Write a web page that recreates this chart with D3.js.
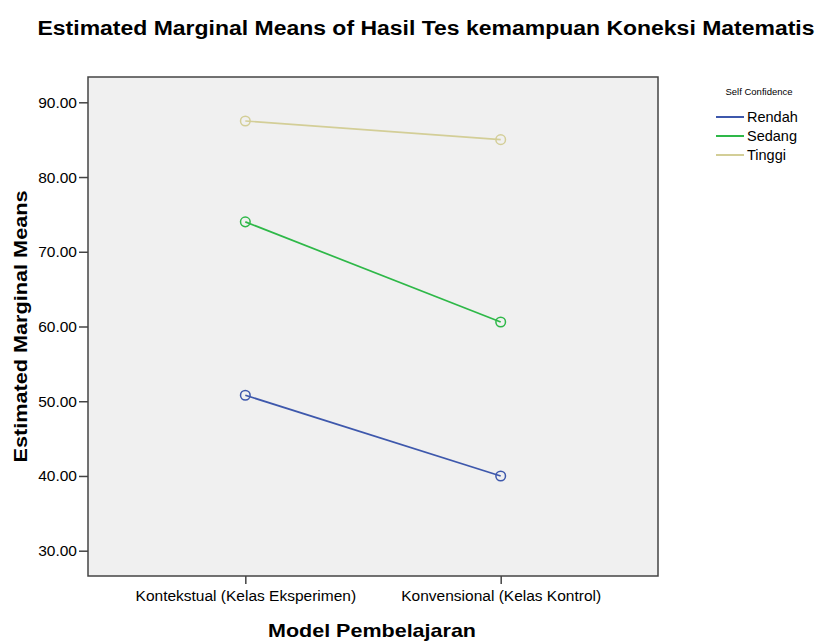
<!DOCTYPE html>
<html>
<head>
<meta charset="utf-8">
<script src="https://cdn.jsdelivr.net/npm/d3@7"></script>
<style>
  body { margin: 0; background: #fff; }
  text { font-family: Arial, "Liberation Sans", sans-serif; fill: #000; }
</style>
</head>
<body>
<div id="container"></div>
<script>
// categories on the x axis
const categories = ['Kontekstual (Kelas Eksperimen)', 'Konvensional (Kelas Kontrol)'];

// series (Self Confidence levels)
const seriesNames = ['Rendah', 'Sedang', 'Tinggi'];
const rendahValues = [50.8, 40.0];
const sedangValues = [74.0, 60.6];
const tinggiValues = [87.5, 85.0];

const yTicks = [30, 40, 50, 60, 70, 80, 90];

const seriesColors = ['#3e58ac', '#2eb848', '#d3ce97'];

const series = [
    { name: seriesNames[0], values: rendahValues, color: seriesColors[0] },
    { name: seriesNames[1], values: sedangValues, color: seriesColors[1] },
    { name: seriesNames[2], values: tinggiValues, color: seriesColors[2] }
];

const width = 820;
const height = 641;

// plot frame
const plot = { left: 88, right: 658, top: 77, bottom: 576 };

const svg = d3.select('#container').append('svg')
    .attr('width', width)
    .attr('height', height);

// Title
svg.append('text')
    .attr('x', 426)
    .attr('y', 35)
    .attr('text-anchor', 'middle')
    .attr('font-size', 20)
    .attr('font-weight', 'bold')
    .attr('textLength', 777)
    .attr('lengthAdjust', 'spacingAndGlyphs')
    .text('Estimated Marginal Means of Hasil Tes kemampuan Koneksi Matematis');

// Scales
const yScale = d3.scaleLinear()
    .domain([30, 90])
    .range([550.7, 102.3]);

const xScale = d3.scalePoint()
    .domain(categories)
    .range([plot.left, plot.right])
    .padding(0.616);

// plot background
svg.append('rect')
    .attr('x', plot.left)
    .attr('y', plot.top)
    .attr('width', plot.right - plot.left)
    .attr('height', plot.bottom - plot.top)
    .attr('fill', '#f0f0f0')
    .attr('stroke', '#444')
    .attr('stroke-width', 1.5);

// Y axis
const yAxis = svg.append('g')
    .attr('transform', 'translate(' + plot.left + ',0)')
    .call(d3.axisLeft(yScale).tickValues(yTicks).tickFormat(d3.format('.2f')).tickSize(9).tickPadding(2));
yAxis.select('.domain').remove();
yAxis.selectAll('line').attr('stroke', '#444').attr('stroke-width', 1.5);
yAxis.selectAll('text').attr('font-size', 15.5).attr('font-family', 'Arial, "Liberation Sans", sans-serif');

// X axis
const xAxis = svg.append('g')
    .attr('transform', 'translate(0,' + plot.bottom + ')')
    .call(d3.axisBottom(xScale).tickSize(8).tickPadding(6));
xAxis.select('.domain').remove();
xAxis.selectAll('line').attr('stroke', '#444').attr('stroke-width', 1.5);
xAxis.selectAll('text').attr('font-size', 15.5).attr('font-family', 'Arial, "Liberation Sans", sans-serif');

// Axis titles
svg.append('text')
    .attr('x', 372)
    .attr('y', 637)
    .attr('text-anchor', 'middle')
    .attr('font-size', 19)
    .attr('font-weight', 'bold')
    .attr('textLength', 208)
    .attr('lengthAdjust', 'spacingAndGlyphs')
    .text('Model Pembelajaran');

svg.append('text')
    .attr('transform', 'translate(27,' + ((plot.top + plot.bottom) / 2) + ') rotate(-90)')
    .attr('text-anchor', 'middle')
    .attr('font-size', 19)
    .attr('font-weight', 'bold')
    .attr('textLength', 272)
    .attr('lengthAdjust', 'spacingAndGlyphs')
    .text('Estimated Marginal Means');

// Lines and markers
const line = d3.line()
    .x((d, i) => xScale(categories[i]))
    .y(d => yScale(d));

series.forEach(s => {
    svg.append('path')
        .datum(s.values)
        .attr('d', line)
        .attr('fill', 'none')
        .attr('stroke', s.color)
        .attr('stroke-width', 1.7);

    svg.selectAll(null)
        .data(s.values)
        .enter()
        .append('circle')
        .attr('cx', (d, i) => xScale(categories[i]))
        .attr('cy', d => yScale(d))
        .attr('r', 4.8)
        .attr('fill', 'none')
        .attr('stroke', s.color)
        .attr('stroke-width', 1.5);
});

// Legend
svg.append('text')
    .attr('x', 759)
    .attr('y', 95)
    .attr('text-anchor', 'middle')
    .attr('font-size', 9.5)
    .attr('fill', '#333')
    .text('Self Confidence');

const legend = svg.selectAll('.legend-item')
    .data(series)
    .enter()
    .append('g')
    .attr('class', 'legend-item')
    .attr('transform', (d, i) => 'translate(716,' + (117 + i * 19) + ')');

legend.append('line')
    .attr('x1', 0)
    .attr('x2', 28)
    .attr('stroke', d => d.color)
    .attr('stroke-width', 2);

legend.append('text')
    .attr('x', 31)
    .attr('y', 5)
    .attr('font-size', 14.5)
    .text(d => d.name);
</script>
</body>
</html>
